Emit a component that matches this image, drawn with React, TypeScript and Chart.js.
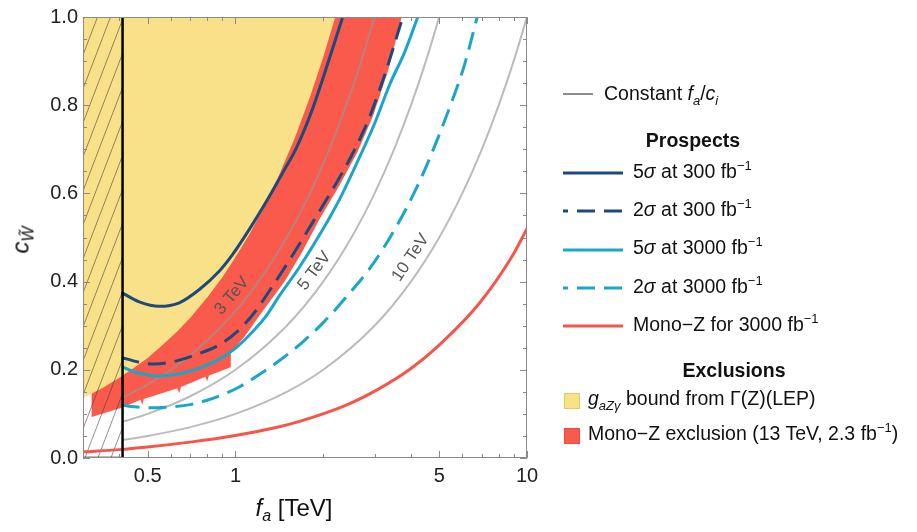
import React, { useEffect, useRef } from "react";
import { Chart, registerables } from "chart.js";

Chart.register(...registerables);

const FONT = "'Liberation Sans', Arial, Helvetica, sans-serif";

// ---- axes -------------------------------------------------------------
const faMin = 0.3;
const faMax = 10;
const cwMin = 0;
const cwMax = 1;
const xTickValues = [0.5, 1, 5, 10];
const xMinorTickValues = [0.3, 0.4, 0.6, 0.7, 0.8, 0.9, 2, 3, 4, 6, 7, 8, 9];
const yTickValues = [0, 0.2, 0.4, 0.6, 0.8, 1.0];
const yMinorTickValues = [0.05, 0.1, 0.15, 0.25, 0.3, 0.35, 0.45, 0.5, 0.55, 0.65, 0.7, 0.75, 0.85, 0.9, 0.95];

// ---- exclusions (f_a in TeV, c_W̃) -------------------------------------
// g_aZγ bound from Γ(Z) at LEP: excluded above this edge
const lepEdgeFa = [0.3, 0.35, 0.4, 0.45, 0.5, 0.56, 0.63, 0.7, 0.8, 0.9, 1.0, 1.12, 1.25, 1.4, 1.6, 1.8, 2.0, 2.2];
const lepEdgeCw = [0.136, 0.159, 0.182, 0.205, 0.227, 0.255, 0.286, 0.318, 0.364, 0.409, 0.455, 0.509, 0.568, 0.636, 0.727, 0.818, 0.909, 1.0];

// Mono-Z exclusion (13 TeV, 2.3 fb^-1): lower/right edge of the excluded band
const monoZEdgeFa = [0.321, 0.321, 0.407, 0.473, 0.479, 0.485, 0.632, 0.642, 0.65, 0.789, 0.801, 0.811, 0.964, 0.964, 1.074, 1.209, 1.474, 1.686, 1.944, 2.278, 2.626, 2.957, 3.33, 3.719];
const monoZEdgeCw = [1.0, 0.093, 0.114, 0.132, 0.12, 0.134, 0.158, 0.147, 0.161, 0.184, 0.174, 0.187, 0.206, 0.239, 0.275, 0.323, 0.4, 0.465, 0.542, 0.619, 0.695, 0.774, 0.876, 1.0];

// Region below f_a of this value is hatched
const hatchFaMax = 0.41;

// ---- prospects ----------------------------------------------------------
const fiveSigma300Fa = [0.407, 0.468, 0.548, 0.642, 0.752, 0.881, 0.977, 1.117, 1.278, 1.45, 1.62, 1.825, 2.072, 2.332];
const fiveSigma300Cw = [0.375, 0.354, 0.344, 0.352, 0.382, 0.424, 0.461, 0.519, 0.582, 0.646, 0.704, 0.786, 0.894, 1.0];

const twoSigma300Fa = [0.407, 0.468, 0.527, 0.617, 0.723, 0.881, 1.016, 1.162, 1.329, 1.595, 1.898, 2.206, 2.544, 2.887, 3.278, 3.749];
const twoSigma300Cw = [0.228, 0.217, 0.213, 0.219, 0.233, 0.257, 0.287, 0.33, 0.386, 0.467, 0.549, 0.621, 0.695, 0.774, 0.876, 1.0];

const fiveSigma3000Fa = [0.407, 0.468, 0.548, 0.642, 0.752, 0.867, 0.992, 1.117, 1.258, 1.416, 1.659, 1.944, 2.278, 2.626, 3.004, 3.382, 3.809, 4.221];
const fiveSigma3000Cw = [0.207, 0.192, 0.186, 0.191, 0.204, 0.222, 0.247, 0.279, 0.317, 0.368, 0.433, 0.506, 0.587, 0.673, 0.759, 0.847, 0.921, 1.0];

const twoSigma3000Fa = [0.407, 0.45, 0.505, 0.6, 0.7, 0.8, 0.9, 1.03, 1.2, 1.416, 1.7, 2.0, 2.4, 2.964, 3.6, 4.1, 4.64, 5.5, 6.1, 6.75];
const twoSigma3000Cw = [0.12, 0.116, 0.114, 0.116, 0.121, 0.131, 0.143, 0.161, 0.188, 0.221, 0.263, 0.307, 0.365, 0.44, 0.53, 0.601, 0.68, 0.805, 0.891, 1.0];

const monoZ3000Fa = [0.3, 0.4, 0.5, 0.7, 1.0, 1.416, 1.66, 2.4, 3.125, 4.0, 5.0, 6.89, 8.85, 10];
const monoZ3000Cw = [0.014, 0.019, 0.025, 0.036, 0.051, 0.071, 0.083, 0.12, 0.158, 0.203, 0.256, 0.352, 0.455, 0.52];

// ---- constant f_a / c_i contours ------------------------------------------
const contour3Fa = [0.41, 0.5, 0.6, 0.75, 1.0, 1.25, 1.5, 1.75, 2.0, 2.25, 2.5, 2.75, 3.0];
const contour3Cw = [0.137, 0.167, 0.2, 0.25, 0.333, 0.417, 0.5, 0.583, 0.667, 0.75, 0.833, 0.917, 1.0];
const contour5Fa = [0.41, 0.5, 0.7, 1.0, 1.5, 2.0, 2.5, 3.0, 3.5, 4.0, 4.5, 5.0];
const contour5Cw = [0.082, 0.1, 0.14, 0.2, 0.3, 0.4, 0.5, 0.6, 0.7, 0.8, 0.9, 1.0];
const contour10Fa = [0.41, 0.5, 0.7, 1.0, 1.5, 2.0, 3.0, 4.0, 5.0, 6.0, 7.0, 8.0, 9.0, 10.0];
const contour10Cw = [0.041, 0.05, 0.07, 0.1, 0.15, 0.2, 0.3, 0.4, 0.5, 0.6, 0.7, 0.8, 0.9, 1.0];

const contourLabelText = ["3 TeV", "5 TeV", "10 TeV"];
const contourLabelFa = [0.973, 1.867, 3.99];
const contourLabelCw = [0.368, 0.424, 0.454];
const contourLabelAngle = [-50, -53, -56];

// ---- colours ---------------------------------------------------------------
const YELLOW = "#f8e189";
const RED_FILL = "#f95a4c";
const RED_LINE = "#f5564a";
const NAVY = "#1d4a7a";
const CYAN = "#19a6c8";
const CONTOUR = "rgba(150,150,150,0.65)";
const DASH = [18, 9];

const pts = (xs: number[], ys: number[]) => xs.map((x, i) => ({ x, y: ys[i] }));

function makeHatch(): CanvasPattern | string {
  const w = 13;
  const h = 34;
  const c = document.createElement("canvas");
  c.width = w;
  c.height = h;
  const g = c.getContext("2d");
  if (!g) return "rgba(0,0,0,0)";
  g.strokeStyle = "rgba(60,60,60,0.7)";
  g.lineWidth = 0.8;
  for (const dx of [-w, 0, w]) {
    g.beginPath();
    g.moveTo(dx, h);
    g.lineTo(dx + w, 0);
    g.stroke();
  }
  return g.createPattern(c, "repeat") || "rgba(0,0,0,0)";
}

const frameAndLabels = {
  id: "frameAndLabels",
  afterDatasetsDraw(chart: any) {
    const { ctx, chartArea: a, scales } = chart;
    const xs = scales.x;
    const ys = scales.y;
    ctx.save();
    ctx.strokeStyle = "#8a8a8a";
    ctx.lineWidth = 1;
    ctx.strokeRect(a.left + 0.5, a.top + 0.5, a.right - a.left - 1, a.bottom - a.top - 1);

    const major = 7;
    const minor = 4;
    ctx.beginPath();
    const vTick = (v: number, len: number) => {
      const px = Math.round(xs.getPixelForValue(v)) + 0.5;
      ctx.moveTo(px, a.bottom);
      ctx.lineTo(px, a.bottom - len);
      ctx.moveTo(px, a.top);
      ctx.lineTo(px, a.top + len);
    };
    const hTick = (v: number, len: number) => {
      const py = Math.round(ys.getPixelForValue(v)) + 0.5;
      ctx.moveTo(a.left, py);
      ctx.lineTo(a.left + len, py);
      ctx.moveTo(a.right, py);
      ctx.lineTo(a.right - len, py);
    };
    xTickValues.forEach((v) => vTick(v, major));
    xMinorTickValues.forEach((v) => vTick(v, minor));
    yTickValues.forEach((v) => hTick(v, major));
    yMinorTickValues.forEach((v) => hTick(v, minor));
    ctx.stroke();

    ctx.fillStyle = "#555";
    ctx.font = `17px ${FONT}`;
    ctx.textAlign = "center";
    ctx.textBaseline = "middle";
    contourLabelText.forEach((t, i) => {
      ctx.save();
      ctx.translate(xs.getPixelForValue(contourLabelFa[i]), ys.getPixelForValue(contourLabelCw[i]));
      ctx.rotate((contourLabelAngle[i] * Math.PI) / 180);
      ctx.fillText(t, 0, 0);
      ctx.restore();
    });
    ctx.restore();
  },
};

function ContourChart() {
  const ref = useRef<HTMLCanvasElement | null>(null);
  useEffect(() => {
    if (!ref.current) return;
    const hatch = makeHatch();
    const curve = (data: any, color: string, width: number, order: number, dash?: number[]) => ({
      data,
      borderColor: color,
      borderWidth: width,
      borderDash: dash || [],
      borderCapStyle: "butt",
      pointRadius: 0,
      fill: false,
      cubicInterpolationMode: "monotone",
      order,
    });
    const shape = (data: any, color: any, order: number) => ({
      data,
      borderWidth: 0,
      borderColor: "rgba(0,0,0,0)",
      backgroundColor: color,
      pointRadius: 0,
      fill: "shape",
      tension: 0,
      order,
    });

    const chart = new Chart(ref.current, {
      type: "line",
      data: {
        datasets: [
          shape([{ x: monoZEdgeFa[0], y: 1 }, ...pts(monoZEdgeFa, monoZEdgeCw)], RED_FILL, 6),
          shape([{ x: faMin, y: 1 }, ...pts(lepEdgeFa, lepEdgeCw)], YELLOW, 5),
          shape(
            [
              { x: faMin, y: cwMin },
              { x: hatchFaMax, y: cwMin },
              { x: hatchFaMax, y: cwMax },
              { x: faMin, y: cwMax },
            ],
            hatch,
            4
          ),
          curve(pts(contour3Fa, contour3Cw), CONTOUR, 2, 3),
          curve(pts(contour5Fa, contour5Cw), CONTOUR, 2, 3),
          curve(pts(contour10Fa, contour10Cw), CONTOUR, 2, 3),
          curve(pts(monoZ3000Fa, monoZ3000Cw), RED_LINE, 3, 2),
          curve(pts(twoSigma3000Fa, twoSigma3000Cw), CYAN, 3, 2, DASH),
          curve(pts(fiveSigma3000Fa, fiveSigma3000Cw), CYAN, 3, 2),
          curve(pts(twoSigma300Fa, twoSigma300Cw), NAVY, 3, 1, DASH),
          curve(pts(fiveSigma300Fa, fiveSigma300Cw), NAVY, 3, 1),
          {
            data: [
              { x: faMin, y: cwMin },
              { x: hatchFaMax, y: cwMin },
              { x: hatchFaMax, y: cwMax },
            ],
            borderColor: "#000",
            borderWidth: 2.5,
            pointRadius: 0,
            fill: false,
            tension: 0,
            order: 0,
          },
        ] as any,
      },
      options: {
        animation: false,
        responsive: false,
        devicePixelRatio: 1,
        layout: { padding: { top: 15, right: 390, left: 0, bottom: 0 } },
        plugins: { legend: { display: false }, tooltip: { enabled: false } },
        scales: {
          x: {
            type: "logarithmic",
            min: faMin,
            max: faMax,
            grid: { display: false, drawTicks: false },
            border: { display: false },
            afterBuildTicks: (axis: any) => {
              axis.ticks = xTickValues.map((value) => ({ value }));
            },
            afterFit: (axis: any) => {
              axis.height = 74;
            },
            ticks: {
              autoSkip: false,
              maxRotation: 0,
              padding: 6,
              color: "#222",
              font: { family: FONT, size: 20 },
              callback: (v: any) => String(v),
            },
          },
          y: {
            type: "linear",
            min: cwMin,
            max: cwMax,
            grid: { display: false, drawTicks: false },
            border: { display: false },
            afterFit: (axis: any) => {
              axis.width = 83;
            },
            ticks: {
              stepSize: 0.2,
              padding: 5,
              color: "#222",
              font: { family: FONT, size: 20 },
              callback: (v: any) => Number(v).toFixed(1),
            },
          },
        },
      } as any,
      plugins: [frameAndLabels],
    });
    return () => chart.destroy();
  }, []);
  return <canvas ref={ref} width={917} height={532} style={{ position: "absolute", left: 0, top: 0, display: "block" }} />;
}

const LEG_SIZE = 19.5;

function Txt({ left, baseline, bold, center, children }: any) {
  return (
    <div
      style={{
        position: "absolute",
        left,
        top: baseline - 0.8465 * LEG_SIZE,
        font: `${bold ? "bold " : ""}${LEG_SIZE}px ${FONT}`,
        lineHeight: `${LEG_SIZE}px`,
        whiteSpace: "nowrap",
        color: "#111",
        transform: center ? "translateX(-50%)" : undefined,
      }}
    >
      {children}
    </div>
  );
}

const Sup = ({ children }: any) => (
  <span style={{ fontSize: 13, position: "relative", top: -8 }}>{children}</span>
);
const Sub = ({ children, italic }: any) => (
  <span style={{ fontSize: 13, position: "relative", top: 5, fontStyle: italic ? "italic" : "normal" }}>{children}</span>
);

function Swatch({ y, color, dashed, width = 60, stroke = 3 }: any) {
  return (
    <svg style={{ position: "absolute", left: 563, top: y - 4 }} width={width} height={8}>
      <line
        x1={0}
        y1={4}
        x2={width}
        y2={4}
        stroke={color}
        strokeWidth={stroke}
        strokeDasharray={dashed ? "18 9" : undefined}
        strokeDashoffset={dashed ? 13 : undefined}
      />
    </svg>
  );
}

function Box({ y, color, border }: any) {
  return (
    <div
      style={{
        position: "absolute",
        left: 564,
        top: y,
        width: 14,
        height: 14,
        background: color,
        border: `1px solid ${border}`,
      }}
    />
  );
}

export default function App() {
  return (
    <div style={{ position: "absolute", left: 0, top: 0, width: 917, height: 532, background: "#fff", overflow: "hidden" }}>
      <ContourChart />

      {/* axis titles */}
      <div
        style={{
          position: "absolute",
          left: 22,
          top: 240,
          transform: "translate(-50%,-50%) rotate(-90deg)",
          font: `italic 24px ${FONT}`,
          lineHeight: "24px",
          whiteSpace: "nowrap",
          color: "#111",
        }}
      >
        c<span style={{ fontSize: 16, position: "relative", top: 5 }}>{"W\u0303"}</span>
      </div>
      <div
        style={{
          position: "absolute",
          left: 294,
          top: 496,
          transform: "translateX(-50%)",
          font: `24px ${FONT}`,
          lineHeight: "24px",
          whiteSpace: "nowrap",
          color: "#111",
        }}
      >
        <i>f</i>
        <span style={{ fontSize: 16, position: "relative", top: 5, fontStyle: "italic" }}>a</span> [TeV]
      </div>

      {/* legend */}
      <Swatch y={94} color="#8c8c8c" width={30} stroke={2} />
      <Txt left={604} baseline={101}>
        Constant <i>f</i>
        <Sub italic>a</Sub>/<i>c</i>
        <Sub italic>i</Sub>
      </Txt>

      <Txt left={693} baseline={148} bold center>
        Prospects
      </Txt>
      <Swatch y={173} color={NAVY} />
      <Txt left={633} baseline={178.5}>
        5<i>σ</i> at 300 fb<Sup>−1</Sup>
      </Txt>
      <Swatch y={211} color={NAVY} dashed />
      <Txt left={633} baseline={216.5}>
        2<i>σ</i> at 300 fb<Sup>−1</Sup>
      </Txt>
      <Swatch y={249.5} color={CYAN} />
      <Txt left={633} baseline={255}>
        5<i>σ</i> at 3000 fb<Sup>−1</Sup>
      </Txt>
      <Swatch y={288} color={CYAN} dashed />
      <Txt left={633} baseline={293.5}>
        2<i>σ</i> at 3000 fb<Sup>−1</Sup>
      </Txt>
      <Swatch y={326} color={RED_LINE} />
      <Txt left={633} baseline={331.5}>
        Mono−Z for 3000 fb<Sup>−1</Sup>
      </Txt>

      <Txt left={734} baseline={377.5} bold center>
        Exclusions
      </Txt>
      <Box y={393} color={YELLOW} border="#e3c96a" />
      <Txt left={588} baseline={406}>
        <i>g</i>
        <Sub italic>aZγ</Sub> bound from Γ(Z)(LEP)
      </Txt>
      <Box y={428} color={RED_FILL} border="#ee4a3d" />
      <Txt left={588} baseline={441}>
        Mono−Z exclusion (13 TeV, 2.3 fb<Sup>−1</Sup>)
      </Txt>
    </div>
  );
}
